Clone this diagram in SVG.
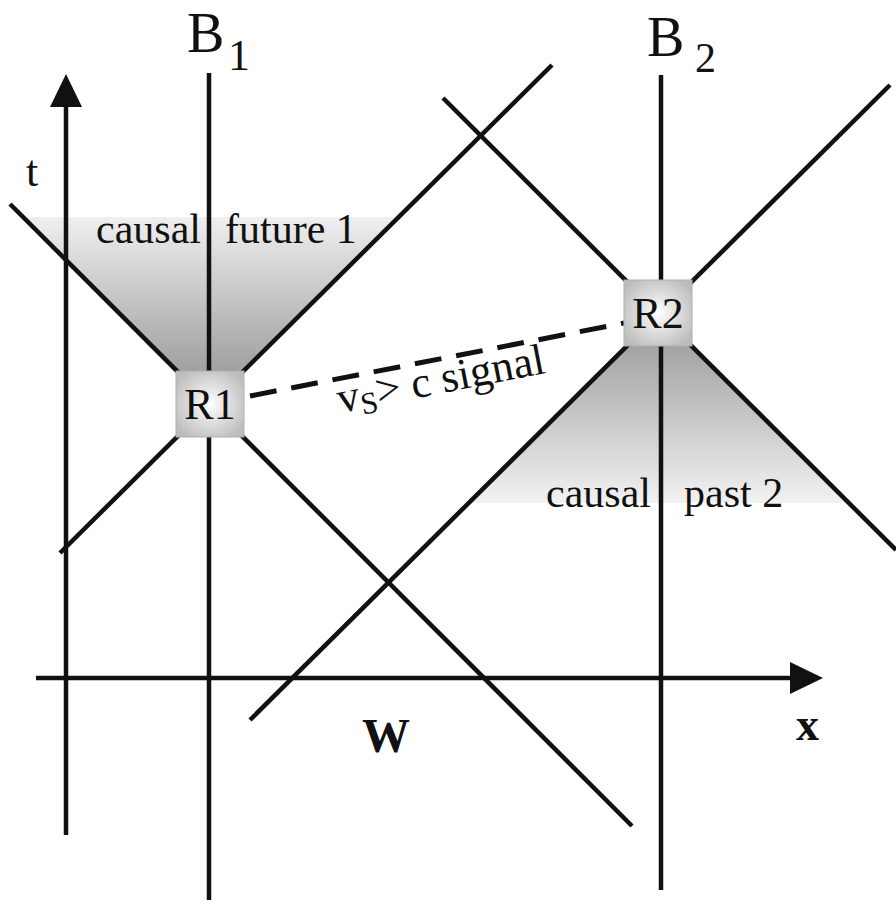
<svg xmlns="http://www.w3.org/2000/svg" width="896" height="904" viewBox="0 0 896 904">
<style>
.ln{stroke:#111;stroke-width:4.5;fill:none;stroke-linecap:butt}
.ax{stroke:#111;stroke-width:4.5;fill:none}
.tx{font-family:"Liberation Serif","Times New Roman",serif;fill:#111}
.box{stroke:#b0b0b0;stroke-width:1}
</style>
<defs>
<linearGradient id="gF" x1="0" y1="217" x2="0" y2="404" gradientUnits="userSpaceOnUse">
<stop offset="0" stop-color="#efefef"/>
<stop offset="1" stop-color="#8f8f8f"/>
</linearGradient>
<linearGradient id="gP" x1="0" y1="314" x2="0" y2="503" gradientUnits="userSpaceOnUse">
<stop offset="0" stop-color="#939393"/>
<stop offset="1" stop-color="#f2f2f2"/>
</linearGradient>
<radialGradient id="gB" cx="0.5" cy="0.5" r="0.6">
<stop offset="0" stop-color="#ffffff"/>
<stop offset="1" stop-color="#bcbcbc"/>
</radialGradient>
</defs>

<g id="regions">
<polygon id="causal-future-1" points="23,217 399,217 210,404" fill="url(#gF)"/>
<polygon id="causal-past-2" points="659,314 469,503 849,503" fill="url(#gP)"/>
</g>

<g id="axes">
<g id="t-axis">
<line class="ax" x1="66" y1="835" x2="66" y2="104"/>
<polygon points="66,74 50,107 82,107" fill="#111"/>
<text class="tx" x="26" y="186" font-size="44">t</text>
</g>
<g id="x-axis">
<line class="ax" x1="36" y1="678" x2="792" y2="678"/>
<polygon points="823,678 790,662 790,694" fill="#111"/>
<text class="tx" x="796" y="740" font-size="46" font-weight="bold">x</text>
</g>
<text id="W" class="tx" x="362" y="752" font-size="48" font-weight="bold">W</text>
</g>

<g id="worldlines">
<g id="B1">
<line class="ln" x1="209" y1="73" x2="209" y2="900"/>
<text class="tx" x="187" y="52" font-size="56">B</text>
<text class="tx" x="228" y="70" font-size="44">1</text>
</g>
<g id="B2">
<line class="ln" x1="661" y1="75" x2="661" y2="890"/>
<text class="tx" x="647" y="56" font-size="56">B</text>
<text class="tx" x="695" y="72" font-size="42">2</text>
</g>
</g>

<g id="light-cones">
<line class="ln" x1="60" y1="553" x2="552" y2="65"/>
<line class="ln" x1="10" y1="204" x2="632" y2="826"/>
<line class="ln" x1="443" y1="98" x2="896" y2="550"/>
<line class="ln" x1="250" y1="720" x2="890" y2="85"/>
</g>

<g id="labels">
<text class="tx" x="96" y="243" font-size="42">causal</text>
<text class="tx" x="225" y="243" font-size="42">future 1</text>
<text class="tx" x="546" y="507" font-size="42">causal</text>
<text class="tx" x="684" y="507" font-size="42">past 2</text>
</g>

<g id="connectors">
<line id="signal" x1="250" y1="396" x2="624" y2="323" stroke="#111" stroke-width="5" stroke-dasharray="27 15"/>
<text class="tx" font-size="44" transform="translate(340,413) rotate(-11)">v<tspan font-size="31" dy="6">S</tspan><tspan dy="-6">&gt; c signal</tspan></text>
</g>

<g id="R1">
<rect class="box" x="176" y="371" width="68" height="66" fill="url(#gB)"/>
<text class="tx" x="210" y="419" font-size="44" text-anchor="middle">R1</text>
</g>
<g id="R2">
<rect class="box" x="624" y="280" width="68" height="66" fill="url(#gB)"/>
<text class="tx" x="658" y="328" font-size="44" text-anchor="middle">R2</text>
</g>
</svg>
